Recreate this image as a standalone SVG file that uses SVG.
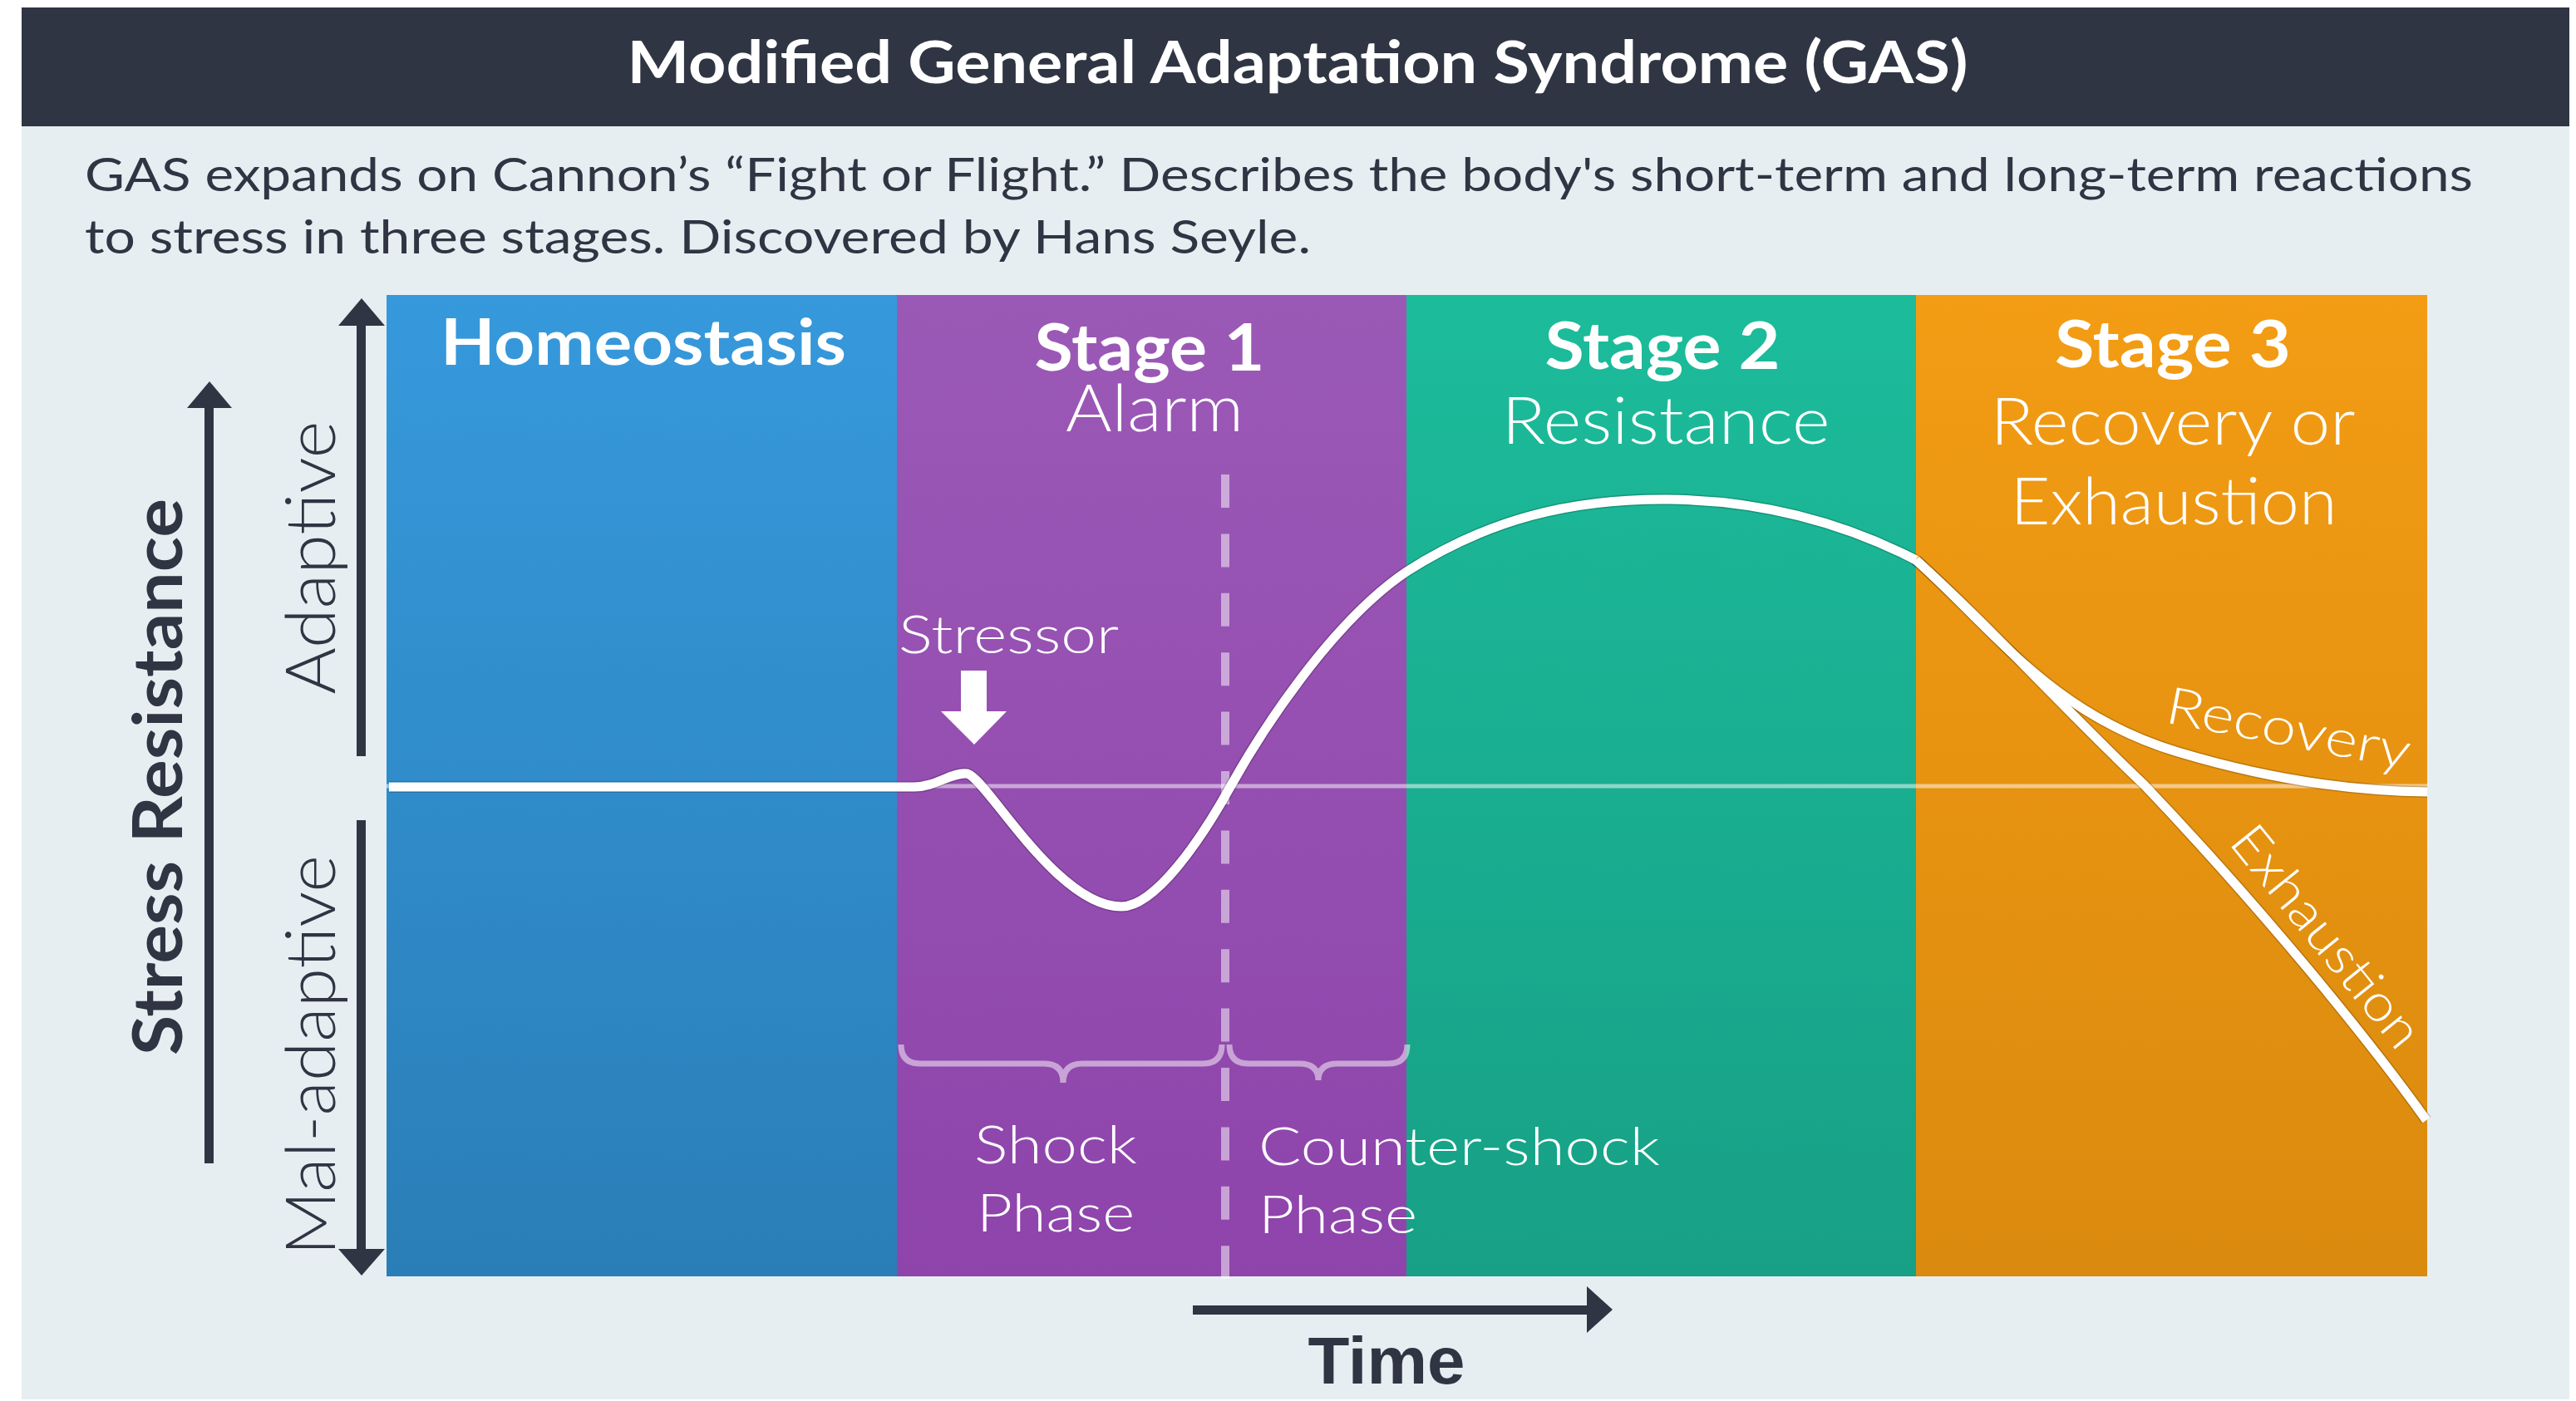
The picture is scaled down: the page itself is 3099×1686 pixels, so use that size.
<svg xmlns="http://www.w3.org/2000/svg" width="3099" height="1686" viewBox="0 0 3099 1686">
  <defs>
    <linearGradient id="gBlue" x1="0" y1="0" x2="0" y2="1">
      <stop offset="0" stop-color="#3699dc"/>
      <stop offset="1" stop-color="#2a7eb7"/>
    </linearGradient>
    <linearGradient id="gPurple" x1="0" y1="0" x2="0" y2="1">
      <stop offset="0" stop-color="#9b59b6"/>
      <stop offset="1" stop-color="#8e44ab"/>
    </linearGradient>
    <linearGradient id="gGreen" x1="0" y1="0" x2="0" y2="1">
      <stop offset="0" stop-color="#1cbc9b"/>
      <stop offset="1" stop-color="#17a086"/>
    </linearGradient>
    <linearGradient id="gOrange" x1="0" y1="0" x2="0" y2="1">
      <stop offset="0" stop-color="#f39c14"/>
      <stop offset="1" stop-color="#da8a0e"/>
    </linearGradient>
  </defs>
  <style>
    .dark { fill: #2f3542; }
    .lbl { font-family: Lato, "Open Sans", "Liberation Sans", sans-serif; }
    .bold { font-weight: 700; }
    .light { font-weight: 300; }
    .w { fill: #ffffff; }
    .curveShade { fill: none; stroke: #000000; stroke-opacity: 0.18; stroke-width: 14; }
    .curve { fill: none; stroke: #ffffff; stroke-width: 11; }
    .faint { fill: none; stroke: #ffffff; stroke-opacity: 0.5; }
  </style>

  <!-- page -->
  <rect x="0" y="0" width="3099" height="1686" fill="#ffffff"/>
  <rect x="26" y="152" width="3065" height="1532" fill="#e7eef2"/>

  <!-- header -->
  <g id="header">
    <rect x="26" y="9" width="3065" height="143" fill="#2f3542"/>
    <text class="lbl bold w" x="1561" y="100" font-size="70" text-anchor="middle" textLength="1613" lengthAdjust="spacingAndGlyphs">Modified General Adaptation Syndrome (GAS)</text>
  </g>

  <!-- description -->
  <g id="description" class="lbl dark" font-size="56">
    <text x="102" y="230" textLength="2873" lengthAdjust="spacingAndGlyphs">GAS expands on Cannon’s “Fight or Flight.” Describes the body's short-term and long-term reactions</text>
    <text x="102" y="305" textLength="1475" lengthAdjust="spacingAndGlyphs">to stress in three stages. Discovered by Hans Seyle.</text>
  </g>

  <!-- stage bands -->
  <g id="homeostasis">
    <rect x="465" y="355" width="614" height="1181" fill="url(#gBlue)"/>
    <text class="lbl bold w" x="774" y="439" font-size="76" text-anchor="middle" textLength="488" lengthAdjust="spacingAndGlyphs">Homeostasis</text>
  </g>
  <g id="stage1">
    <rect x="1079" y="355" width="613" height="1181" fill="url(#gPurple)"/>
    <text class="lbl bold w" x="1383" y="446" font-size="78" text-anchor="middle" textLength="277" lengthAdjust="spacingAndGlyphs">Stage 1</text>
    <text class="lbl light w" x="1389" y="519" font-size="78" text-anchor="middle" textLength="214" lengthAdjust="spacingAndGlyphs">Alarm</text>
  </g>
  <g id="stage2">
    <rect x="1692" y="355" width="613" height="1181" fill="url(#gGreen)"/>
    <text class="lbl bold w" x="2000" y="444" font-size="78" text-anchor="middle" textLength="283" lengthAdjust="spacingAndGlyphs">Stage 2</text>
    <text class="lbl light w" x="2004" y="534" font-size="78" text-anchor="middle" textLength="395" lengthAdjust="spacingAndGlyphs">Resistance</text>
  </g>
  <g id="stage3">
    <rect x="2305" y="355" width="615" height="1181" fill="url(#gOrange)"/>
    <text class="lbl bold w" x="2614" y="442" font-size="78" text-anchor="middle" textLength="284" lengthAdjust="spacingAndGlyphs">Stage 3</text>
    <text class="lbl light w" x="2614" y="535" font-size="78" text-anchor="middle" textLength="439" lengthAdjust="spacingAndGlyphs">Recovery or</text>
    <text class="lbl light w" x="2615" y="631" font-size="78" text-anchor="middle" textLength="393" lengthAdjust="spacingAndGlyphs">Exhaustion</text>
  </g>

  <!-- reference level and phase divider -->
  <g id="guides">
    <line class="faint" x1="465" y1="946" x2="2920" y2="946" stroke-width="5" stroke-opacity="0.4"/>
    <line class="faint" x1="1474" y1="571" x2="1474" y2="1539" stroke-width="10" stroke-dasharray="40 31.4"/>
  </g>

  <!-- phase braces -->
  <g id="shock-phase">
    <path class="faint" stroke-width="7" d="M1084,1257 Q1084,1280 1107,1280 H1256 Q1279,1280 1279,1303 Q1279,1280 1302,1280 H1447 Q1470,1280 1470,1257"/>
    <text class="lbl light w" font-size="64" x="1172" y="1400" textLength="196" lengthAdjust="spacingAndGlyphs">Shock</text>
    <text class="lbl light w" font-size="64" x="1175" y="1482" textLength="190" lengthAdjust="spacingAndGlyphs">Phase</text>
  </g>
  <g id="counter-shock-phase">
    <path class="faint" stroke-width="7" d="M1479,1257 Q1479,1280 1502,1280 H1563 Q1586,1280 1586,1300 Q1586,1280 1609,1280 H1670 Q1693,1280 1693,1257"/>
    <text class="lbl light w" font-size="64" x="1514" y="1402" textLength="483" lengthAdjust="spacingAndGlyphs">Counter-shock</text>
    <text class="lbl light w" font-size="64" x="1514" y="1484" textLength="191" lengthAdjust="spacingAndGlyphs">Phase</text>
  </g>

  <!-- stressor marker -->
  <g id="stressor">
    <text class="lbl light w" font-size="64" x="1081" y="786" textLength="265" lengthAdjust="spacingAndGlyphs">Stressor</text>
    <path class="w" d="M1156,807 H1187 V856 H1211 L1172,896 L1132,856 H1156 Z"/>
  </g>

  <!-- resistance curve -->
  <g id="connectors">
    <path class="curveShade" d="M468,947 H1100 C1125,947 1145,929 1163,931 C1185,933 1270,1091 1349,1091 C1390,1091 1445,1010 1480,947 C1515,884 1600,750 1692,688 C1790,625 1890,600 2007,601 C2120,602 2220,630 2305,674"/>
    <path class="curveShade" d="M2305,674 C2390,750 2480,850 2579,944 C2680,1050 2820,1210 2919,1348"/>
    <path class="curveShade" d="M2305,674 C2400,760 2470,860 2620,905 C2720,935 2820,952 2920,953"/>
    <path class="curve" d="M468,947 H1100 C1125,947 1145,929 1163,931 C1185,933 1270,1091 1349,1091 C1390,1091 1445,1010 1480,947 C1515,884 1600,750 1692,688 C1790,625 1890,600 2007,601 C2120,602 2220,630 2305,674"/>
    <path class="curve" d="M2305,674 C2390,750 2480,850 2579,944 C2680,1050 2820,1210 2919,1348"/>
    <path class="curve" d="M2305,674 C2400,760 2470,860 2620,905 C2720,935 2820,952 2920,953"/>
  </g>

  <!-- outcome labels -->
  <g id="recovery-label">
    <text class="lbl light w" font-size="62" transform="translate(2603,869) rotate(11)" textLength="298" lengthAdjust="spacingAndGlyphs">Recovery</text>
  </g>
  <g id="exhaustion-label">
    <text class="lbl light w" font-size="62" transform="translate(2680,1014) rotate(51)" textLength="325" lengthAdjust="spacingAndGlyphs">Exhaustion</text>
  </g>

  <!-- vertical axis -->
  <g id="axis-stress-resistance">
    <rect class="dark" x="246" y="489" width="11" height="911"/>
    <polygon class="dark" points="225,491 279,491 252,459"/>
    <text class="lbl bold dark" font-size="82" transform="translate(219,935) rotate(-90)" text-anchor="middle" textLength="670" lengthAdjust="spacingAndGlyphs">Stress Resistance</text>
  </g>
  <g id="axis-adaptive">
    <rect class="dark" x="429" y="390" width="11" height="520"/>
    <polygon class="dark" points="407,392 463,392 435,359"/>
    <text class="lbl light dark" font-size="82" transform="translate(403,671) rotate(-90)" text-anchor="middle" textLength="329" lengthAdjust="spacingAndGlyphs">Adaptive</text>
  </g>
  <g id="axis-mal-adaptive">
    <rect class="dark" x="429" y="987" width="11" height="518"/>
    <polygon class="dark" points="407,1503 463,1503 435,1535"/>
    <text class="lbl light dark" font-size="82" transform="translate(403,1270) rotate(-90)" text-anchor="middle" textLength="482" lengthAdjust="spacingAndGlyphs">Mal-adaptive</text>
  </g>

  <!-- horizontal axis -->
  <g id="axis-time">
    <rect class="dark" x="1435" y="1571" width="476" height="11"/>
    <polygon class="dark" points="1909,1548 1909,1604 1940,1576"/>
    <text class="dark" font-family="'Liberation Sans', Arial, sans-serif" font-weight="700" font-size="80" x="1668" y="1665" text-anchor="middle" textLength="189" lengthAdjust="spacingAndGlyphs">Time</text>
  </g>
</svg>
